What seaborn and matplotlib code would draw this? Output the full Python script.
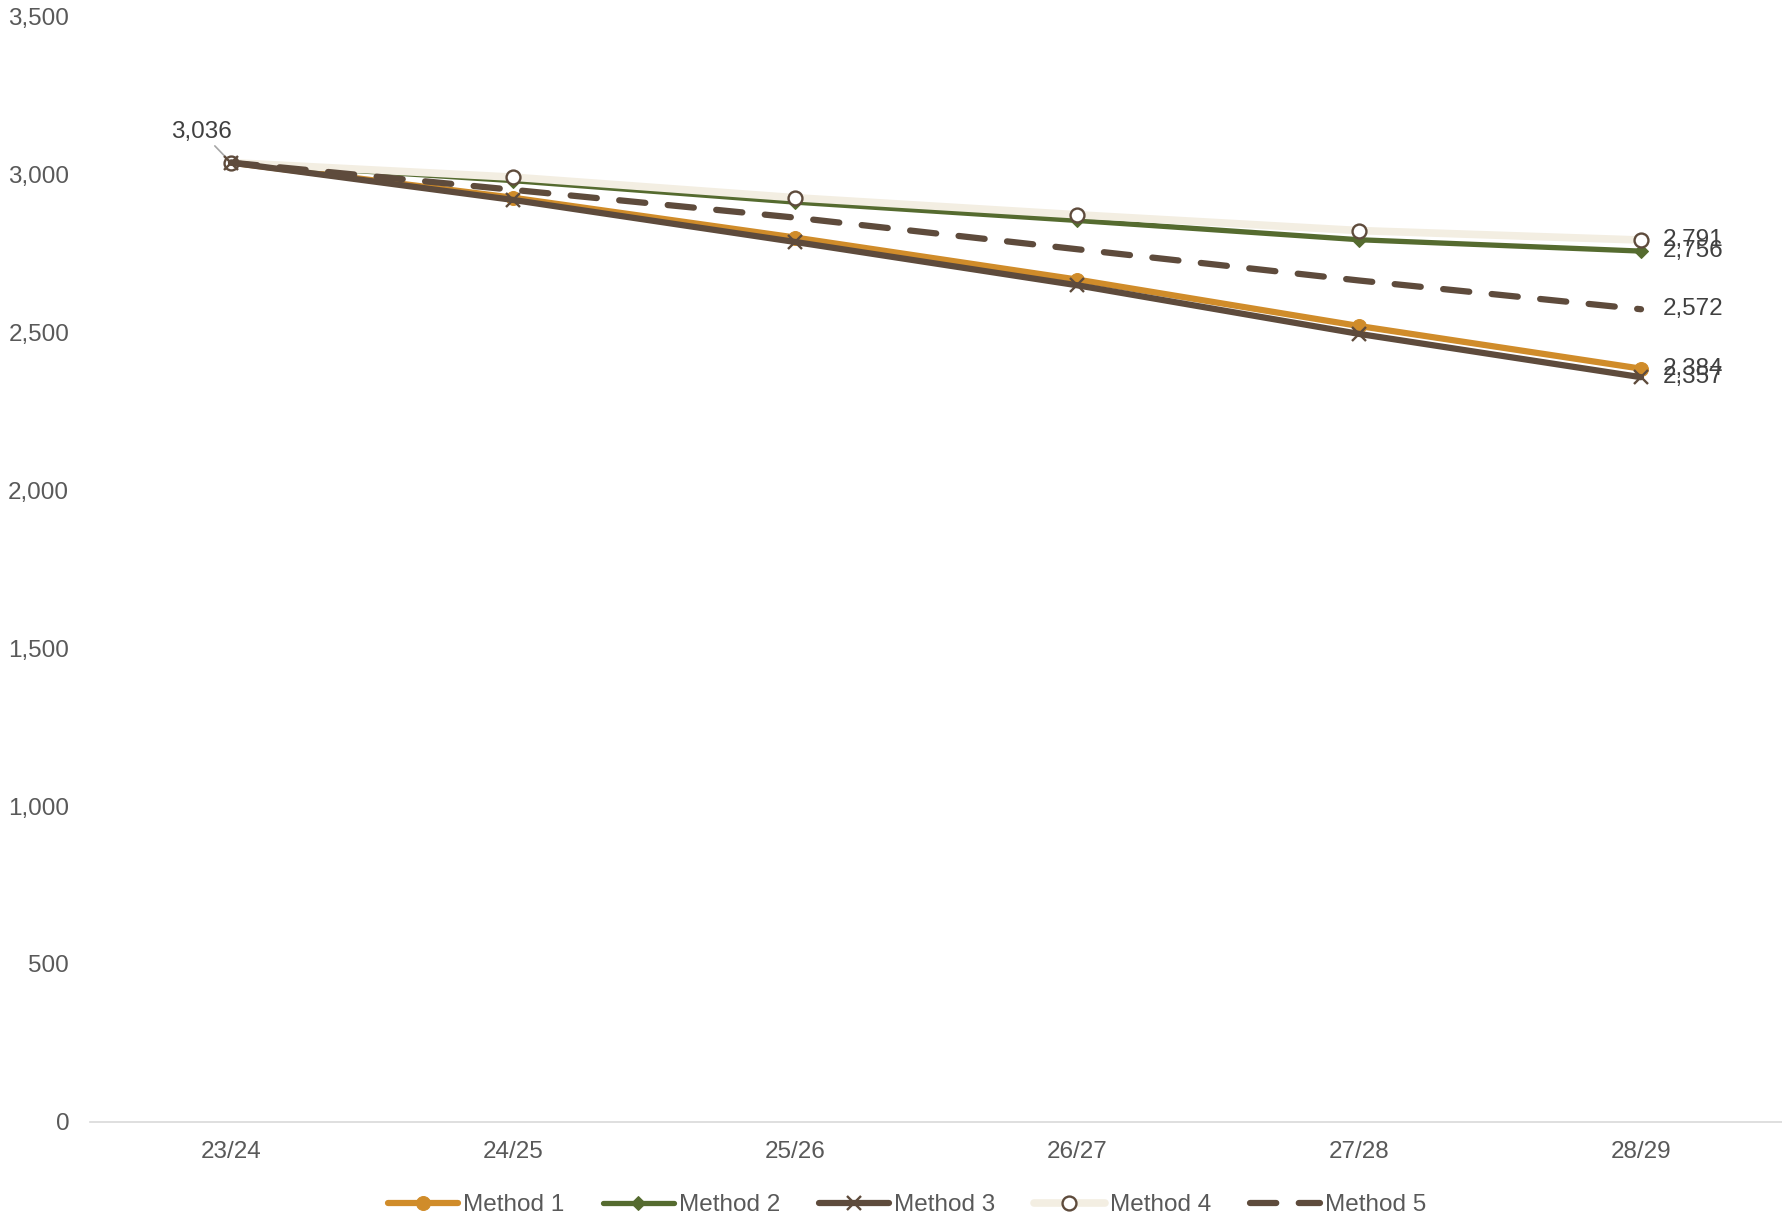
import matplotlib
matplotlib.use("Agg")
import matplotlib.pyplot as plt
import seaborn as sns
import pandas as pd

years = ["23/24", "24/25", "25/26", "26/27", "27/28", "28/29"]
method1 = [3036, 2925, 2799, 2666, 2519, 2384]
method2 = [3036, 2979, 2911, 2853, 2792, 2756]
method3 = [3036, 2918, 2785, 2648, 2494, 2357]
method4 = [3036, 2990, 2925, 2871, 2821, 2791]
method5 = [3036, 2950, 2862, 2762, 2663, 2572]
y_ticks = [0, 500, 1000, 1500, 2000, 2500, 3000, 3500]

sns.set_theme(style="white")
plt.rcParams['font.family'] = ['Liberation Sans', 'DejaVu Sans']

fig = plt.figure(figsize=(17.82, 12.2), dpi=100)
ax = fig.add_axes([90/1782, 1 - 1122/1220, 1 - 90/1782, (1122 - 16)/1220])

TXT = "#595959"
FS = 17.5
series = [
    ("Method 1", method1, dict(color="#D08C2A", lw=4.5, marker="o", ms=10, mfc="#D08C2A", mec="#D08C2A", ls="-"), 2),
    ("Method 2", method2, dict(color="#556B2F", lw=3.8, marker="D", ms=7, mfc="#556B2F", mec="#556B2F", ls="-"), 2),
    ("Method 4", method4, dict(color="#F3EEE2", lw=5.5, marker="o", ms=10, mfc="white", mec="#5E4B3C", mew=1.7, ls="-"), 3),
    ("Method 3", method3, dict(color="#5E4B3C", lw=4.5, marker="x", ms=10, mfc="#5E4B3C", mec="#5E4B3C", mew=1.7, ls="-"), 4),
    ("Method 5", method5, dict(color="#5E4B3C", lw=4.5, marker=None, ls=(0, (4.2, 3.6)), dash_capstyle="round"), 5),
]

handles = {}
for name, vals, st, z in series:
    df = pd.DataFrame({"year": years, "value": vals})
    sns.lineplot(data=df, x="year", y="value", ax=ax, sort=False, color=st["color"],
                 linewidth=st["lw"], zorder=z, legend=False)
    line = ax.lines[-1]
    line.set_linestyle(st["ls"])
    if "dash_capstyle" in st:
        line.set_dash_capstyle("round")
    if st["marker"]:
        line.set_marker(st["marker"])
        line.set_markersize(st["ms"])
        line.set_markerfacecolor(st["mfc"])
        line.set_markeredgecolor(st["mec"])
        if "mew" in st:
            line.set_markeredgewidth(st["mew"])
    line.set_label(name)
    handles[name] = line

ax.set_xlim(-0.5, 5.5)
ax.set_ylim(0, 3500)
ax.set_yticks(y_ticks)
ax.set_yticklabels([f"{v:,}" for v in y_ticks])
ax.set_xlabel("")
ax.set_ylabel("")
ax.tick_params(axis="both", length=0, labelsize=FS, labelcolor=TXT)
ax.tick_params(axis="y", pad=15)
ax.tick_params(axis="x", pad=14)
for s in ["top", "right", "left"]:
    ax.spines[s].set_visible(False)
ax.spines["bottom"].set_color("#D9D9D9")
ax.spines["bottom"].set_linewidth(1.2)
ax.grid(False)

lab_col = "#404040"
for vals in [method1, method2, method3, method4, method5]:
    ax.annotate(f"{vals[-1]:,}", xy=(5, vals[-1]), xytext=(22, 0), textcoords="offset pixels",
                ha="left", va="center", fontsize=FS, color=lab_col)

ax.annotate(f"{method1[0]:,}", xy=(0, method1[0]), xytext=(-30, 20), textcoords="offset pixels",
            ha="center", va="bottom", fontsize=FS, color=lab_col,
            arrowprops=dict(arrowstyle="-", color="#A6A6A6", lw=1.2, shrinkA=0, shrinkB=2))

order = ["Method 1", "Method 2", "Method 3", "Method 4", "Method 5"]
leg = fig.legend([handles[n] for n in order], order, loc="lower center", ncol=5,
                 bbox_to_anchor=(0.509, -0.015), frameon=False, fontsize=FS,
                 handlelength=2.9, columnspacing=1.6, handletextpad=0.2)
for t in leg.get_texts():
    t.set_color(TXT)

fig.savefig("out.png", dpi=100)
